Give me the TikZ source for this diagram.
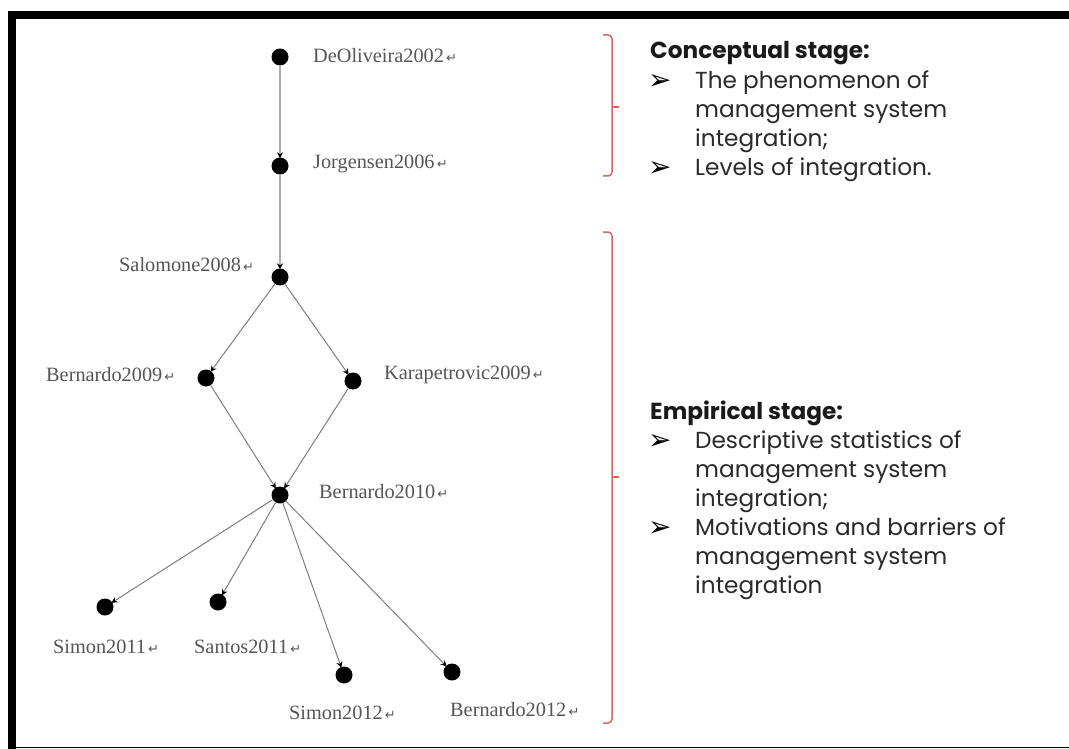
\documentclass[tikz,border=0pt]{standalone}
\usepackage{fontspec}
\setmainfont{Liberation Serif}
\newfontfamily\gothic{Poppins}
\newfontfamily\symfont{DejaVu Sans}
\usetikzlibrary{arrows.meta}
\definecolor{labgray}{HTML}{555555}
\definecolor{edgegray}{HTML}{7F7F7F}
\definecolor{stemgray}{HTML}{ADADAD}
\definecolor{bracered}{HTML}{D9665F}
\definecolor{textdark}{HTML}{2A2A2A}
\definecolor{headdark}{HTML}{1A1A1A}
\newcommand\retmark{{\symfont\fontsize{13}{13}\selectfont\,↵}}
\newcommand\bulletmark{{\symfont\fontsize{28}{28}\selectfont ➢}}

\begin{document}
\begin{tikzpicture}[x=1pt,y=-1pt,
  dot/.style={circle,fill=black,draw=none,inner sep=0pt,minimum size=17pt},
  lab/.style={anchor=base west,inner sep=0pt,text=labgray,font=\fontsize{20.3}{20}\selectfont},
  conn/.style={draw=edgegray,line width=1pt,-{Stealth[length=6pt,width=6pt,color=black]},shorten >=-1pt},
  stem/.style={draw=stemgray,line width=2.6pt,-{Stealth[length=6pt,width=6pt,color=black]},shorten >=-1pt},
  head/.style={anchor=base west,inner sep=0pt,text=headdark,font=\gothic\bfseries\fontsize{23.2}{23}\selectfont},
  item/.style={anchor=base west,inner sep=0pt,text=textdark,font=\gothic\fontsize{23.2}{23}\selectfont},
  bul/.style={anchor=base west,inner sep=0pt,text=black},
  bracket/.style={draw=bracered,line width=1.5pt,rounded corners=4pt}]

% page area and frame
\useasboundingbox (0,0) rectangle (1069,749);
\fill[white] (0,0) rectangle (1069,749);
\fill[black] (8,11) rectangle (1069,19.5);
\fill[black] (8,11) rectangle (16,749);
\draw[black,line width=1.5pt] (8,747.5) -- (1069,747.5);

% publication nodes
\node[dot] (deo)  at (280,57)  {};
\node[dot] (jor)  at (280,166) {};
\node[dot] (sal)  at (280,277) {};
\node[dot] (ber9) at (206,378) {};
\node[dot] (kar)  at (353,381) {};
\node[dot] (ber10) at (280,495) {};
\node[dot] (sim11) at (105,607) {};
\node[dot] (san11) at (218,602) {};
\node[dot] (sim12) at (344,675) {};
\node[dot] (ber12) at (452,672) {};

% labels
\node[lab] (tdeo)  at (313,63)  {DeOliveira2002\retmark};
\node[lab] (tjor)  at (313,169) {Jorgensen2006\retmark};
\node[lab] (tsal)  at (119,271) {Salomone2008\retmark};
\node[lab] (tber9) at (46,381)  {Bernardo2009\retmark};
\node[lab] (tkar)  at (384,379) {Karapetrovic2009\retmark};
\node[lab] (tber10) at (319,498) {Bernardo2010\retmark};
\node[lab] (tsim11) at (53,653) {Simon2011\retmark};
\node[lab] (tsan11) at (194,653) {Santos2011\retmark};
\node[lab] (tsim12) at (289,719) {Simon2012\retmark};
\node[lab] (tber12) at (450,716) {Bernardo2012\retmark};

% citation links
\draw[stem] (deo) -- (jor);
\draw[stem] (jor) -- (sal);
\draw[conn] (sal) -- (ber9);
\draw[conn] (sal) -- (kar);
\draw[conn] (ber9) -- (ber10);
\draw[conn] (kar) -- (ber10);
\draw[conn] (ber10) -- (sim11);
\draw[conn] (ber10) -- (san11);
\draw[conn] (ber10) -- (sim12);
\draw[conn] (ber10) -- (ber12);

% stage brackets
\draw[bracket] (603,35) -- (612,35) -- (612,176) -- (603,176);
\coordinate (cmid) at (612,107);
\coordinate (ctick) at (619,107);
\draw[bracered,line width=1.5pt] (cmid) -- (ctick);
\draw[bracket] (603,232) -- (612,232) -- (612,723) -- (603,723);
\coordinate (emid) at (612,477);
\coordinate (etick) at (619,477);
\draw[bracered,line width=1.5pt] (emid) -- (etick);

% conceptual stage text
\node[head] (ch) at (650,59) {Conceptual stage:};
\node[bul] (cb1) at (648,90) {\bulletmark};
\node[item] (c1) at (695,89) {The phenomenon of};
\node[item] (c2) at (695,118) {management system};
\node[item] (c3) at (695,147) {integration;};
\node[bul] (cb2) at (648,177) {\bulletmark};
\node[item] (c4) at (695,176) {Levels of integration.};

% empirical stage text
\node[head] (eh) at (650,419) {Empirical stage:};
\node[bul] (eb1) at (648,449) {\bulletmark};
\node[item] (e1) at (695,448) {Descriptive statistics of};
\node[item] (e2) at (695,477) {management system};
\node[item] (e3) at (695,506) {integration;};
\node[bul] (eb2) at (648,536) {\bulletmark};
\node[item] (e4) at (695,535) {Motivations and barriers of};
\node[item] (e5) at (695,564) {management system};
\node[item] (e6) at (695,593) {integration};
\end{tikzpicture}
\end{document}
